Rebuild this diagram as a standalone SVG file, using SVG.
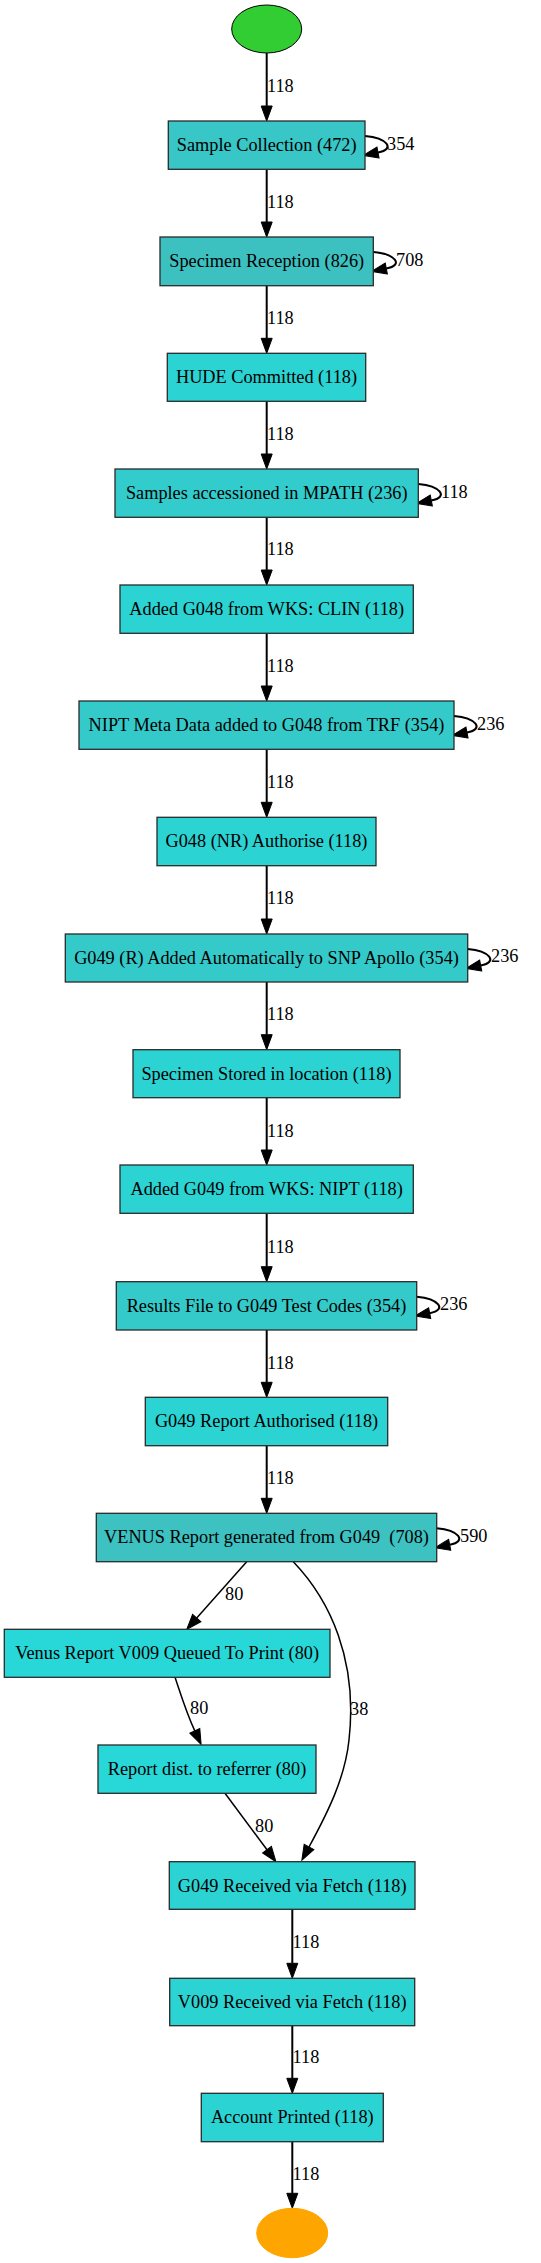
<svg xmlns="http://www.w3.org/2000/svg" width="541" height="2263" viewBox="0 0 541 2263">
<style>
.box{stroke:#2a2a2a;stroke-width:1.3}
.nt{font-family:"Liberation Serif","Times New Roman",serif;font-size:18.3px;text-anchor:middle;fill:#000;white-space:pre}
.el{font-family:"Liberation Serif","Times New Roman",serif;font-size:18.3px;fill:#000}
.e{fill:none;stroke:#000;stroke-width:2;marker-end:url(#ah)}
.t{fill:none;stroke:#000;stroke-width:1.5;marker-end:url(#ah)}
</style>
<defs>
<marker id="ah" markerUnits="userSpaceOnUse" markerWidth="16" markerHeight="12" refX="0" refY="5.5" orient="auto" overflow="visible">
<path d="M0,0 L15,5.5 L0,11 z" fill="#000" stroke="#000" stroke-width="1"/>
</marker>
</defs>
<rect width="541" height="2263" fill="#fff"/>

<g id="connectors">
<line class="e" x1="266.7" y1="53" x2="266.7" y2="106"/><text class="el" x="267" y="92">118</text>
<line class="e" x1="266.7" y1="169.3" x2="266.7" y2="222"/><text class="el" x="267" y="208">118</text>
<path class="e" d="M365,136 C387,138 396,149 378,152.5"/><text class="el" x="387" y="150">354</text>
<line class="e" x1="266.7" y1="285.7" x2="266.7" y2="338.3"/><text class="el" x="267" y="324">118</text>
<path class="e" d="M373.3,252 C395.3,254 404.3,265 386.3,268.5"/><text class="el" x="396" y="266">708</text>
<line class="e" x1="266.7" y1="401.3" x2="266.7" y2="454"/><text class="el" x="267" y="440">118</text>
<line class="e" x1="266.7" y1="517.3" x2="266.7" y2="570"/><text class="el" x="267" y="555">118</text>
<path class="e" d="M418.3,484 C440.3,486 449.3,497 431.3,500.5"/><text class="el" x="441" y="498">118</text>
<line class="e" x1="266.7" y1="633.3" x2="266.7" y2="686"/><text class="el" x="267" y="671.5">118</text>
<line class="e" x1="266.7" y1="749.3" x2="266.7" y2="802.3"/><text class="el" x="267" y="788">118</text>
<path class="e" d="M454,716 C476,718 485,729 467,732.5"/><text class="el" x="477" y="729.5">236</text>
<line class="e" x1="266.7" y1="865.7" x2="266.7" y2="919"/><text class="el" x="267" y="903.5">118</text>
<line class="e" x1="266.7" y1="982" x2="266.7" y2="1034.7"/><text class="el" x="267" y="1020">118</text>
<path class="e" d="M467.7,949 C489.7,951 498.7,962 480.7,965.5"/><text class="el" x="491" y="962">236</text>
<line class="e" x1="266.7" y1="1097.7" x2="266.7" y2="1150"/><text class="el" x="267" y="1136.5">118</text>
<line class="e" x1="266.7" y1="1213.3" x2="266.7" y2="1266.7"/><text class="el" x="267" y="1252.5">118</text>
<line class="e" x1="266.7" y1="1330" x2="266.7" y2="1382.3"/><text class="el" x="267" y="1368.5">118</text>
<path class="e" d="M416.7,1296.7 C438.7,1298.7 447.7,1309.7 429.7,1313.2"/><text class="el" x="440" y="1310">236</text>
<line class="e" x1="266.7" y1="1445.7" x2="266.7" y2="1498.3"/><text class="el" x="267" y="1483.5">118</text>
<path class="e" d="M436.7,1528.3 C458.7,1530.3 467.7,1541.3 449.7,1544.8"/><text class="el" x="460" y="1542">590</text>
<path class="t" d="M246.7,1561.7 L196.7,1618.1"/><text class="el" x="225" y="1599.5">80</text>
<path class="t" d="M293.3,1561.7 C330,1600 358,1660 349,1740 C345,1778 328,1812 309,1847"/><text class="el" x="350" y="1715">38</text>
<path class="t" d="M175,1677.3 C180,1692 186,1712 194.8,1730.9"/><text class="el" x="190" y="1714">80</text>
<path class="t" d="M225,1793.3 L267,1849.7"/><text class="el" x="255" y="1832">80</text>
<line class="e" x1="292.3" y1="1909.3" x2="292.3" y2="1963.3"/><text class="el" x="292.6" y="1947.5">118</text>
<line class="e" x1="292.3" y1="2025.7" x2="292.3" y2="2078.3"/><text class="el" x="292.6" y="2063.3">118</text>
<line class="e" x1="292.3" y1="2141.7" x2="292.3" y2="2193.3"/><text class="el" x="292.6" y="2180">118</text>
</g>

<g id="start"><ellipse cx="266.7" cy="29" rx="35" ry="24" fill="#32CD32" stroke="#000" stroke-width="1"/></g>
<g id="n_sample_collection"><rect class="box" x="168.3" y="121" width="196.7" height="48.3" fill="#38C6C6"/><text class="nt" x="266.7" y="151">Sample Collection (472)</text></g>
<g id="n_specimen_reception"><rect class="box" x="160" y="237" width="213.3" height="48.7" fill="#3DC0C0"/><text class="nt" x="266.7" y="267">Specimen Reception (826)</text></g>
<g id="n_hude"><rect class="box" x="167.3" y="353.3" width="198.4" height="48" fill="#2CD3D3"/><text class="nt" x="266.5" y="383.3">HUDE Committed (118)</text></g>
<g id="n_mpath"><rect class="box" x="115" y="469" width="303.3" height="48.3" fill="#33CCCC"/><text class="nt" x="266.7" y="499">Samples accessioned in MPATH (236)</text></g>
<g id="n_clin"><rect class="box" x="120" y="585" width="293.3" height="48.3" fill="#2CD3D3"/><text class="nt" x="266.7" y="615">Added G048 from WKS: CLIN (118)</text></g>
<g id="n_nipt_meta"><rect class="box" x="79" y="701" width="375" height="48.3" fill="#35CACA"/><text class="nt" x="266.5" y="731">NIPT Meta Data added to G048 from TRF (354)</text></g>
<g id="n_g048_auth"><rect class="box" x="157" y="817.3" width="219" height="48.4" fill="#2CD3D3"/><text class="nt" x="266.5" y="847.3">G048 (NR) Authorise (118)</text></g>
<g id="n_g049_snp"><rect class="box" x="65.3" y="934" width="402.4" height="48" fill="#35CACA"/><text class="nt" x="266.5" y="964">G049 (R) Added Automatically to SNP Apollo (354)</text></g>
<g id="n_stored"><rect class="box" x="133" y="1049.7" width="267" height="48" fill="#2CD3D3"/><text class="nt" x="266.5" y="1079.7">Specimen Stored in location (118)</text></g>
<g id="n_wks_nipt"><rect class="box" x="120" y="1165" width="293.3" height="48.3" fill="#2CD3D3"/><text class="nt" x="266.7" y="1195">Added G049 from WKS: NIPT (118)</text></g>
<g id="n_results"><rect class="box" x="116.3" y="1281.7" width="300.4" height="48.3" fill="#35CACA"/><text class="nt" x="266.5" y="1311.7">Results File to G049 Test Codes (354)</text></g>
<g id="n_report_auth"><rect class="box" x="145.3" y="1397.3" width="242.4" height="48.4" fill="#2CD3D3"/><text class="nt" x="266.5" y="1427.3">G049 Report Authorised (118)</text></g>
<g id="n_venus"><rect class="box" x="96.3" y="1513.3" width="340.4" height="48.4" fill="#3DC1C1"/><text class="nt" x="266.5" y="1543.3">VENUS Report generated from G049  (708)</text></g>
<g id="n_queued"><rect class="box" x="4.3" y="1629.3" width="325.7" height="48" fill="#28D8D8"/><text class="nt" x="167.2" y="1659.3">Venus Report V009 Queued To Print (80)</text></g>
<g id="n_dist"><rect class="box" x="98" y="1745" width="218" height="48.3" fill="#28D8D8"/><text class="nt" x="207" y="1775">Report dist. to referrer (80)</text></g>
<g id="n_g049_fetch"><rect class="box" x="169.3" y="1861.7" width="245.7" height="47.6" fill="#2CD3D3"/><text class="nt" x="292.2" y="1891.5">G049 Received via Fetch (118)</text></g>
<g id="n_v009_fetch"><rect class="box" x="169.7" y="1978.3" width="245" height="47.4" fill="#2CD3D3"/><text class="nt" x="292.2" y="2008">V009 Received via Fetch (118)</text></g>
<g id="n_account"><rect class="box" x="201.3" y="2093.3" width="182" height="48.4" fill="#2CD3D3"/><text class="nt" x="292.3" y="2123.3">Account Printed (118)</text></g>
<g id="end"><ellipse cx="292.2" cy="2233" rx="35.5" ry="24.7" fill="#FFA500" stroke="#FFA500" stroke-width="1"/></g>
</svg>
